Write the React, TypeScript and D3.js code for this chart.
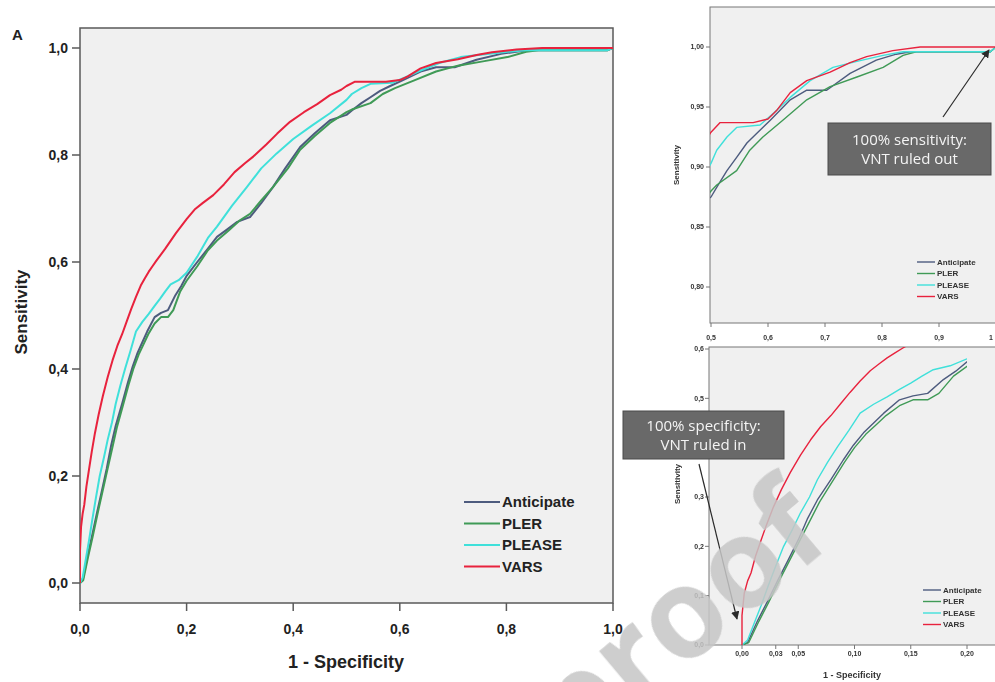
import React from 'react';
import * as d3 from 'd3';

type Pt = [number, number];

// ROC curves: [1 - specificity, sensitivity]
const anticipateRoc: Pt[] = [
  [0, 0], [0.005, 0.005], [0.014, 0.05], [0.023, 0.09], [0.032, 0.132], [0.041, 0.172],
  [0.05, 0.213], [0.058, 0.255], [0.067, 0.294], [0.079, 0.335], [0.09, 0.375], [0.099, 0.405],
  [0.108, 0.43], [0.117, 0.45], [0.126, 0.47], [0.14, 0.497], [0.152, 0.505], [0.165, 0.51],
  [0.179, 0.538], [0.19, 0.555], [0.2, 0.574], [0.22, 0.6], [0.24, 0.625], [0.257, 0.647],
  [0.275, 0.66], [0.295, 0.675], [0.319, 0.684], [0.34, 0.71], [0.362, 0.74], [0.385, 0.775],
  [0.413, 0.815], [0.44, 0.84], [0.469, 0.865], [0.5, 0.875], [0.51, 0.883], [0.528, 0.897],
  [0.545, 0.908], [0.563, 0.92], [0.58, 0.928], [0.604, 0.939], [0.639, 0.956], [0.668, 0.964],
  [0.703, 0.964], [0.744, 0.978], [0.79, 0.989], [0.825, 0.994], [0.85, 0.996], [0.99, 0.996], [1, 1],
];

const plerRoc: Pt[] = [
  [0, 0], [0.006, 0.005], [0.015, 0.048], [0.024, 0.088], [0.033, 0.13], [0.042, 0.17],
  [0.051, 0.21], [0.06, 0.25], [0.069, 0.29], [0.08, 0.33], [0.091, 0.37], [0.1, 0.4],
  [0.11, 0.427], [0.12, 0.448], [0.128, 0.465], [0.14, 0.485], [0.152, 0.497], [0.165, 0.497],
  [0.175, 0.51], [0.188, 0.545], [0.2, 0.565], [0.22, 0.592], [0.24, 0.622], [0.257, 0.64],
  [0.28, 0.66], [0.3, 0.678], [0.319, 0.69], [0.34, 0.715], [0.362, 0.74], [0.39, 0.775],
  [0.413, 0.81], [0.44, 0.835], [0.469, 0.86], [0.5, 0.88], [0.51, 0.885], [0.545, 0.897],
  [0.568, 0.914], [0.591, 0.925], [0.626, 0.939], [0.668, 0.956], [0.709, 0.967], [0.756, 0.975],
  [0.802, 0.983], [0.837, 0.993], [0.86, 0.996], [0.99, 0.996], [1, 1],
];

const pleaseRoc: Pt[] = [
  [0, 0], [0.005, 0.01], [0.011, 0.045], [0.017, 0.08], [0.023, 0.118], [0.03, 0.16],
  [0.037, 0.2], [0.045, 0.235], [0.052, 0.268], [0.06, 0.3], [0.067, 0.335], [0.076, 0.37],
  [0.085, 0.402], [0.095, 0.435], [0.105, 0.47], [0.117, 0.488], [0.129, 0.503], [0.14, 0.518],
  [0.15, 0.531], [0.16, 0.545], [0.17, 0.558], [0.185, 0.566], [0.2, 0.58], [0.22, 0.61],
  [0.24, 0.645], [0.257, 0.666], [0.285, 0.705], [0.313, 0.74], [0.34, 0.775], [0.369, 0.803],
  [0.4, 0.83], [0.435, 0.855], [0.469, 0.878], [0.5, 0.903], [0.51, 0.914], [0.528, 0.925],
  [0.545, 0.933], [0.586, 0.935], [0.61, 0.945], [0.639, 0.958], [0.674, 0.972], [0.714, 0.983],
  [0.756, 0.988], [0.802, 0.993], [0.837, 0.996], [0.99, 0.996], [1, 1],
];

const varsRoc: Pt[] = [
  [0, 0], [0, 0.06], [0.002, 0.105], [0.005, 0.13], [0.008, 0.146], [0.012, 0.18],
  [0.017, 0.213], [0.022, 0.245], [0.028, 0.28], [0.035, 0.315], [0.043, 0.35], [0.052, 0.385],
  [0.061, 0.416], [0.07, 0.443], [0.079, 0.465], [0.088, 0.49], [0.096, 0.512], [0.105, 0.535],
  [0.114, 0.556], [0.122, 0.57], [0.129, 0.582], [0.136, 0.592], [0.143, 0.602], [0.16, 0.625],
  [0.18, 0.654], [0.2, 0.68], [0.215, 0.698], [0.23, 0.71], [0.25, 0.725], [0.27, 0.745],
  [0.29, 0.768], [0.31, 0.785], [0.325, 0.797], [0.35, 0.82], [0.37, 0.84], [0.394, 0.862],
  [0.42, 0.88], [0.445, 0.895], [0.469, 0.912], [0.49, 0.922], [0.5, 0.929], [0.516, 0.937],
  [0.574, 0.937], [0.6, 0.94], [0.615, 0.947], [0.639, 0.962], [0.668, 0.972], [0.709, 0.979],
  [0.744, 0.987], [0.773, 0.992], [0.819, 0.997], [0.867, 1.0], [1, 1],
];

const seriesNames = ['Anticipate', 'PLER', 'PLEASE', 'VARS'];
const seriesColors = ['#4d5b7e', '#3f9a56', '#3fe0da', '#e8223d'];
const seriesData: Pt[][] = [anticipateRoc, plerRoc, pleaseRoc, varsRoc];

const mainTicks = [0, 0.2, 0.4, 0.6, 0.8, 1];
const topXTicks = [0.5, 0.6, 0.7, 0.8, 0.9, 1];
const topXLabels = ['0,5', '0,6', '0,7', '0,8', '0,9', '1'];
const topYTicks = [0.8, 0.85, 0.9, 0.95, 1];
const bottomXTicks = [0, 0.03, 0.05, 0.1, 0.15, 0.2];
const bottomYTicks = [0, 0.1, 0.2, 0.3, 0.5, 0.6];

const comma = (f: string) => (v: number) => d3.format(f)(v).replace('.', ',');

const AXIS_FONT = "'Liberation Sans Narrow', 'Liberation Sans', Arial, sans-serif";
const NOTE_FONT = "'Open Sans', 'Noto Sans', sans-serif";

type PanelProps = {
  id: string;
  frame: { x0: number; y0: number; x1: number; y1: number };
  dataMaxX?: number;
  x: d3.ScaleLinear<number, number>;
  y: d3.ScaleLinear<number, number>;
  xTicks: number[];
  xLabels: string[];
  yTicks: number[];
  yLabels: string[];
  tickLen: number;
  fontSize: number;
  xLabelY: number;
  yLabelX: number;
  lineWidth: number;
  legend: { x: number; y: number; dy: number; len: number; fontSize: number };
  frameStroke: string;
  frameWidth: number;
  textFill: string;
};

function Panel(p: PanelProps) {
  const { frame, x, y } = p;
  const line = d3
    .line<Pt>()
    .x((d) => x(d[0]))
    .y((d) => y(d[1]))
    .curve(d3.curveLinear);
  const clipRight = p.dataMaxX !== undefined ? x(p.dataMaxX) : frame.x1;
  return (
    <g>
      <defs>
        <clipPath id={`clip-${p.id}`}>
          <rect x={frame.x0} y={frame.y0} width={clipRight - frame.x0} height={frame.y1 - frame.y0} />
        </clipPath>
      </defs>
      <rect
        x={frame.x0}
        y={frame.y0}
        width={frame.x1 - frame.x0}
        height={frame.y1 - frame.y0}
        fill="#f0f0f0"
        stroke={p.frameStroke}
        strokeWidth={p.frameWidth}
      />
      <g clipPath={`url(#clip-${p.id})`}>
        {seriesData.map((d, i) => (
          <path
            key={seriesNames[i]}
            d={line(d) || ''}
            fill="none"
            stroke={seriesColors[i]}
            strokeWidth={p.lineWidth}
            strokeLinejoin="round"
          />
        ))}
      </g>
      {p.xTicks.map((t, i) => (
        <g key={`xt${i}`}>
          <line x1={x(t)} x2={x(t)} y1={frame.y1} y2={frame.y1 + p.tickLen} stroke={p.frameStroke} strokeWidth={p.frameWidth} />
          <text
            x={Math.min(x(t), 991)}
            y={p.xLabelY}
            textAnchor="middle"
            fontFamily={AXIS_FONT}
            fontWeight="bold"
            fontSize={p.fontSize}
            fill={p.textFill}
          >
            {p.xLabels[i]}
          </text>
        </g>
      ))}
      {p.yTicks.map((t, i) => (
        <g key={`yt${i}`}>
          <line x1={frame.x0 - p.tickLen} x2={frame.x0} y1={y(t)} y2={y(t)} stroke={p.frameStroke} strokeWidth={p.frameWidth} />
          <text
            x={p.yLabelX}
            y={y(t)}
            dy="0.35em"
            textAnchor="end"
            fontFamily={AXIS_FONT}
            fontWeight="bold"
            fontSize={p.fontSize}
            fill={p.textFill}
          >
            {p.yLabels[i]}
          </text>
        </g>
      ))}
      {seriesNames.map((name, i) => {
        const ly = p.legend.y + i * p.legend.dy;
        return (
          <g key={`lg${name}`}>
            <line
              x1={p.legend.x}
              x2={p.legend.x + p.legend.len}
              y1={ly}
              y2={ly}
              stroke={seriesColors[i]}
              strokeWidth={p.lineWidth}
            />
            <text
              x={p.legend.x + p.legend.len + 2}
              y={ly}
              dy="0.35em"
              fontFamily={AXIS_FONT}
              fontWeight="bold"
              fontSize={p.legend.fontSize}
              fill={p.textFill}
            >
              {name}
            </text>
          </g>
        );
      })}
    </g>
  );
}

function Note({ x, y, w, h, lines }: { x: number; y: number; w: number; h: number; lines: string[] }) {
  return (
    <g>
      <rect x={x} y={y} width={w} height={h} fill="#696969" stroke="#4a4a4a" strokeWidth={1} />
      {lines.map((t, i) => (
        <text
          key={t}
          x={x + w / 2}
          y={y + h / 2 + (i - (lines.length - 1) / 2) * 19}
          dy="0.35em"
          textAnchor="middle"
          fontFamily={NOTE_FONT}
          fontSize={15}
          fill="#f4f4f4"
        >
          {t}
        </text>
      ))}
    </g>
  );
}

export default function App() {
  // main panel
  const mainX = d3.scaleLinear().domain([0, 1]).range([80, 613]);
  const mainY = d3.scaleLinear().domain([0, 1]).range([583, 48]);
  // upper zoom panel
  const topX = d3.scaleLinear().domain([0.5, 1]).range([711, 996]);
  const topY = d3.scaleLinear().domain([0.8, 1]).range([287, 47]);
  // lower zoom panel
  const botX = d3.scaleLinear().domain([0, 0.2]).range([742, 967]);
  const botY = d3.scaleLinear().domain([0, 0.6]).range([645, 349]);

  return (
    <svg
      width={995}
      height={682}
      viewBox="0 0 995 682"
      style={{ position: 'absolute', left: 0, top: 0, background: '#fff' }}
    >
      <defs>
        <marker id="arrowhead" viewBox="0 0 10 10" refX="9" refY="5" markerWidth="7" markerHeight="7" orient="auto-start-reverse">
          <path d="M0,0 L10,5 L0,10 z" fill="#2a2a2a" />
        </marker>
        <filter id="soft" x="-5%" y="-5%" width="110%" height="110%">
          <feGaussianBlur stdDeviation="0.45" />
        </filter>
      </defs>

      <Panel
        id="main"
        frame={{ x0: 80, y0: 28, x1: 613, y1: 603 }}
        x={mainX}
        y={mainY}
        xTicks={mainTicks}
        xLabels={mainTicks.map(comma('.1f'))}
        yTicks={mainTicks}
        yLabels={mainTicks.map(comma('.1f'))}
        tickLen={8}
        fontSize={14}
        xLabelY={634}
        yLabelX={68}
        lineWidth={2}
        legend={{ x: 464, y: 502, dy: 21.5, len: 36, fontSize: 15 }}
        frameStroke="#5a5a5a"
        frameWidth={1.5}
        textFill="#222"
      />
      <text x={12} y={40} fontFamily={AXIS_FONT} fontWeight="bold" fontSize={15} fill="#222">
        A
      </text>
      <text
        transform="translate(27,312) rotate(-90)"
        textAnchor="middle"
        fontFamily={AXIS_FONT}
        fontWeight="bold"
        fontSize={17}
        fill="#222"
      >
        Sensitivity
      </text>
      <text x={346} y={668} textAnchor="middle" fontFamily={AXIS_FONT} fontWeight="bold" fontSize={18} fill="#222">
        1 - Specificity
      </text>

      <g filter="url(#soft)">
        <Panel
          id="top"
          frame={{ x0: 710, y0: 7, x1: 1000, y1: 323 }}
          x={topX}
          y={topY}
          xTicks={topXTicks}
          xLabels={topXLabels}
          yTicks={topYTicks}
          yLabels={topYTicks.map(comma('.2f'))}
          tickLen={4}
          fontSize={7}
          xLabelY={340}
          yLabelX={704}
          lineWidth={1.4}
          legend={{ x: 917, y: 262, dy: 11.5, len: 18, fontSize: 8 }}
          frameStroke="#777"
          frameWidth={1}
          textFill="#333"
        />
        <text
          transform="translate(679,165) rotate(-90)"
          textAnchor="middle"
          fontFamily={AXIS_FONT}
          fontWeight="bold"
          fontSize={8}
          fill="#333"
        >
          Sensitivity
        </text>

        <Panel
          id="bottom"
          frame={{ x0: 709, y0: 347, x1: 1000, y1: 645 }}
          dataMaxX={0.2}
          x={botX}
          y={botY}
          xTicks={bottomXTicks}
          xLabels={bottomXTicks.map(comma('.2f'))}
          yTicks={bottomYTicks}
          yLabels={bottomYTicks.map(comma('.1f'))}
          tickLen={4}
          fontSize={7}
          xLabelY={656}
          yLabelX={704}
          lineWidth={1.4}
          legend={{ x: 923, y: 590, dy: 11.5, len: 18, fontSize: 8 }}
          frameStroke="#777"
          frameWidth={1}
          textFill="#333"
        />
        <text
          transform="translate(680,484) rotate(-90)"
          textAnchor="middle"
          fontFamily={AXIS_FONT}
          fontWeight="bold"
          fontSize={8}
          fill="#333"
        >
          Sensitivity
        </text>
        <text x={852} y={678} textAnchor="middle" fontFamily={AXIS_FONT} fontWeight="bold" fontSize={9} fill="#333">
          1 - Specificity
        </text>
      </g>

      {/* call-outs */}
      <line x1={943} y1={117} x2={989} y2={50} stroke="#2a2a2a" strokeWidth={1.2} markerEnd="url(#arrowhead)" />
      <Note x={828} y={123} w={163} h={52} lines={['100% sensitivity:', 'VNT ruled out']} />
      <line x1={699} y1={464} x2={737} y2={619} stroke="#2a2a2a" strokeWidth={1.2} markerEnd="url(#arrowhead)" />
      <Note x={623} y={411} w={161} h={48} lines={['100% specificity:', 'VNT ruled in']} />

      {/* watermark */}
      <text
        transform="translate(835,543) rotate(-40)"
        textAnchor="end"
        fontFamily={NOTE_FONT}
        fontWeight="bold"
        fontSize={125}
        fill="#c6c6c6"
        fillOpacity={0.85}
      >
        Journal Pre-proof
      </text>
    </svg>
  );
}
